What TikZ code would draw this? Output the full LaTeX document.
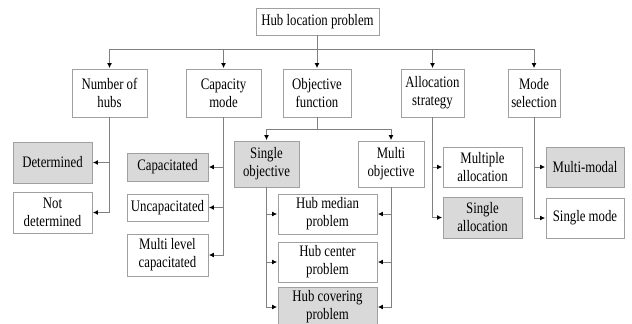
\documentclass[tikz,border=0pt]{standalone}
\usepackage{fontspec}
\setmainfont{Liberation Serif}[FakeStretch=0.8]
\usetikzlibrary{arrows.meta}
\definecolor{boxline}{HTML}{A0A0A0}
\definecolor{conn}{HTML}{808080}
\definecolor{shade}{HTML}{D9D9D9}
\begin{document}
\begin{tikzpicture}[x=1pt,y=-1pt,
  box/.style={draw=boxline,line width=0.9pt,fill=white,inner sep=0pt,align=center,
    font=\fontsize{16}{18}\selectfont,text=black},
  gbox/.style={box,fill=shade},
  line/.style={draw=conn,line width=0.9pt},
  arr/.style={line,-{Latex[length=5pt,width=5pt,color=black]},shorten >=0.5pt}]
\useasboundingbox[fill=white] (0,0) rectangle (632,324);
% level 0
\node[box,minimum width=123pt,minimum height=27pt] (root) at (317.5,21.5) {Hub location problem};
% level 1
\node[box,minimum width=75pt,minimum height=48pt] (nh) at (109.5,93) {Number of\\hubs};
\node[box,minimum width=75pt,minimum height=48pt] (cm) at (223.5,93) {Capacity\\mode};
\node[box,minimum width=68pt,minimum height=48pt] (of) at (317,93) {Objective\\function};
\node[box,minimum width=63pt,minimum height=48pt] (as) at (432.5,93) {Allocation\\strategy};
\node[box,minimum width=52pt,minimum height=48pt] (ms) at (534,93) {Mode\\selection};
% number of hubs
\node[gbox,minimum width=79pt,minimum height=41pt] (det) at (52.5,162.5) {Determined};
\node[box,minimum width=79pt,minimum height=41pt] (ndet) at (52.5,212.5) {Not\\determined};
% capacity mode
\node[gbox,minimum width=81pt,minimum height=28pt] (cap) at (167.5,167) {Capacitated};
\node[box,minimum width=81pt,minimum height=27pt] (uncap) at (167.5,207.5) {Uncapacitated};
\node[box,minimum width=81pt,minimum height=42pt] (mlc) at (167.5,255) {Multi level\\capacitated};
% objective
\node[gbox,minimum width=65pt,minimum height=46pt] (so) at (266.5,164) {Single\\objective};
\node[box,minimum width=66pt,minimum height=46pt] (mo) at (391,164) {Multi\\objective};
\node[box,minimum width=99pt,minimum height=40pt] (hm) at (327.5,214) {Hub median\\problem};
\node[box,minimum width=99pt,minimum height=40pt] (hc) at (327.5,262) {Hub center\\problem};
\node[gbox,minimum width=99pt,minimum height=40pt] (hcov) at (327.5,307) {Hub covering\\problem};
% allocation
\node[box,minimum width=79pt,minimum height=40pt] (ma) at (482.5,167) {Multiple\\allocation};
\node[gbox,minimum width=79pt,minimum height=41pt] (sa) at (482.5,217.5) {Single\\allocation};
% mode
\node[gbox,minimum width=78pt,minimum height=40pt] (mm) at (585,167) {Multi-modal};
\node[box,minimum width=78pt,minimum height=40pt] (sm) at (585,218) {Single mode};
% connectors level 0 -> 1
\coordinate (bus) at (317.5,49);
\draw[line] (root.south) -- (bus);
\draw[line] (nh.north |- bus) -- (ms.north |- bus);
\foreach \n in {nh,cm,of,as,ms} \draw[arr] (\n.north |- bus) -- (\n.north);
% number of hubs
\draw[arr] (nh.south) |- (det.east);
\draw[arr] (nh.south) |- (ndet.east);
% capacity
\draw[arr] (cm.south) |- (cap.east);
\draw[arr] (cm.south) |- (uncap.east);
\draw[arr] (cm.south) |- (mlc.east);
% objective
\coordinate (ofb) at (317,129);
\draw[line] (of.south) -- (ofb);
\draw[arr] (ofb) -| (so.north);
\draw[arr] (ofb) -| (mo.north);
\draw[arr] (so.south) |- (hm.west);
\draw[arr] (so.south) |- (hc.west);
\draw[arr] (so.south) |- (hcov.west);
\draw[arr] (mo.south) |- (hm.east);
\draw[arr] (mo.south) |- (hc.east);
\draw[arr] (mo.south) |- (hcov.east);
% allocation
\draw[arr] (as.south) |- (ma.west);
\draw[arr] (as.south) |- (sa.west);
% mode
\draw[arr] (ms.south) |- (mm.west);
\draw[arr] (ms.south) |- (sm.west);
\end{tikzpicture}
\end{document}
